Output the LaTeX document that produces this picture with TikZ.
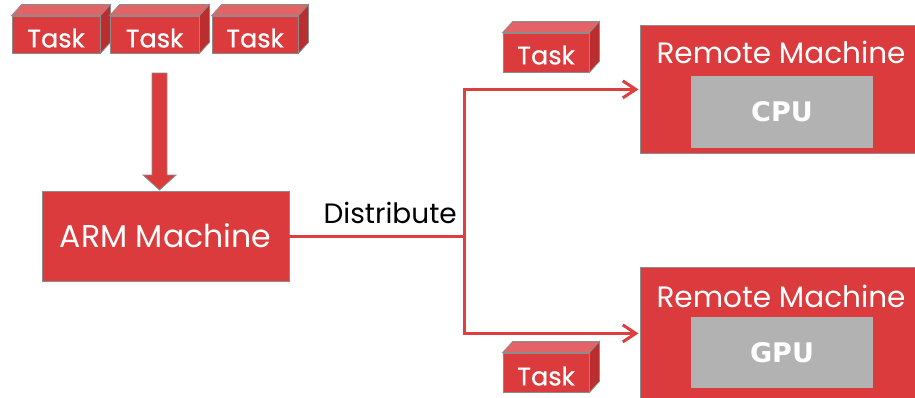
\documentclass[tikz,border=0pt]{standalone}
\usepackage{fontspec}
\setmainfont{Poppins}
\newfontfamily\medfont[FakeBold=0.6]{Poppins}
\newfontfamily\chipfont{DejaVu Sans}
\usetikzlibrary{arrows.meta}
\definecolor{boxred}{RGB}{219,59,61}
\definecolor{cubetopc}{RGB}{226,100,102}
\definecolor{cubesidec}{RGB}{186,46,48}
\definecolor{boxedge}{RGB}{140,140,140}
\definecolor{chipgray}{RGB}{178,178,178}
\definecolor{linered}{RGB}{221,62,62}
\tikzset{
  redbox/.style={draw=boxedge, line width=0.8pt, fill=boxred, inner sep=0pt},
  cubetop/.style={draw=boxedge, line width=0.8pt, fill=cubetopc},
  cubeside/.style={draw=boxedge, line width=0.8pt, fill=cubesidec},
  tasklabel/.style={text=white, font=\medfont\fontsize{25.5}{25.5}\selectfont, anchor=base, inner sep=0pt},
  rmlabel/.style={text=white, font=\fontsize{29.5}{29.5}\selectfont, anchor=base, inner sep=0pt},
  armlabel/.style={text=white, font=\fontsize{31.5}{31.5}\selectfont},
  chip/.style={fill=chipgray, draw=none, inner sep=0pt, text=white, font=\chipfont\bfseries\fontsize{27}{27}\selectfont},
  distlabel/.style={text=black, font=\fontsize{28}{28}\selectfont, inner sep=0pt},
  conn/.style={draw=linered, line width=3pt},
  bigarrow/.style={draw=boxedge, line width=0.8pt, fill=boxred},
}
\newcommand\taskcube[6]{%
  \node[redbox, minimum width=#4, minimum height=#5] (#1) at (#2,#3) {};
  \draw[cubetop] (#1.north west) -- ++(10,-11) -- ([shift={(10,-11)}]#1.north east) -- (#1.north east) -- cycle;
  \draw[cubeside] (#1.north east) -- ([shift={(10,-11)}]#1.north east) -- ([shift={(10,-11)}]#1.south east) -- (#1.south east) -- cycle;
  \node[tasklabel] (#1txt) at ([yshift=#6]#1.south) {Task};
}
\begin{document}
\begin{tikzpicture}[x=1pt,y=-1pt]
\clip (0,0) rectangle (915,397);
\fill[white] (0,0) rectangle (915,397);

% task cubes on top
\taskcube{t1}{56}{34.5}{88}{37}{6pt}
\taskcube{t2}{154.5}{34.5}{89}{37}{6pt}
\taskcube{t3}{255}{34.5}{86}{37}{6pt}

% ARM machine
\node[redbox, minimum width=247, minimum height=90, armlabel] (arm) at (165.5,236) {ARM Machine};

% big arrow
\draw[bigarrow] (152,73) -- (167,73) -- (167,175) -- (176,175) -- (159.5,190) -- (143,175) -- (152,175) -- cycle;

% remote machines
\node[redbox, minimum width=300, minimum height=128, anchor=north west] (rm1) at (640,25) {};
\node[rmlabel] (rm1txt) at (781,63) {Remote Machine};
\node[chip, minimum width=182, minimum height=72] (cpu) at (782,112) {CPU};

\node[redbox, minimum width=300, minimum height=132, anchor=north west] (rm2) at (640,267) {};
\node[rmlabel] (rm2txt) at (781,307) {Remote Machine};
\node[chip, minimum width=182, minimum height=71] (gpu) at (782,352.5) {GPU};

% task cubes near the arrows
\taskcube{t4}{546}{52.5}{86}{39}{8pt}
\taskcube{t5}{546}{372.5}{86}{39}{7pt}

% connectors
\coordinate (split) at (464,236);
\draw[conn] (arm.east) -- (split);
\draw[conn, -{Straight Barb[length=13pt,width=17pt]}, shorten >=1.5pt] (split) |- (rm1.west);
\draw[conn, -{Straight Barb[length=13pt,width=17pt]}, shorten >=1.5pt] (split) |- (rm2.west);
\node[distlabel, anchor=base east] (dist) at (457,223) {Distribute};
\end{tikzpicture}
\end{document}
